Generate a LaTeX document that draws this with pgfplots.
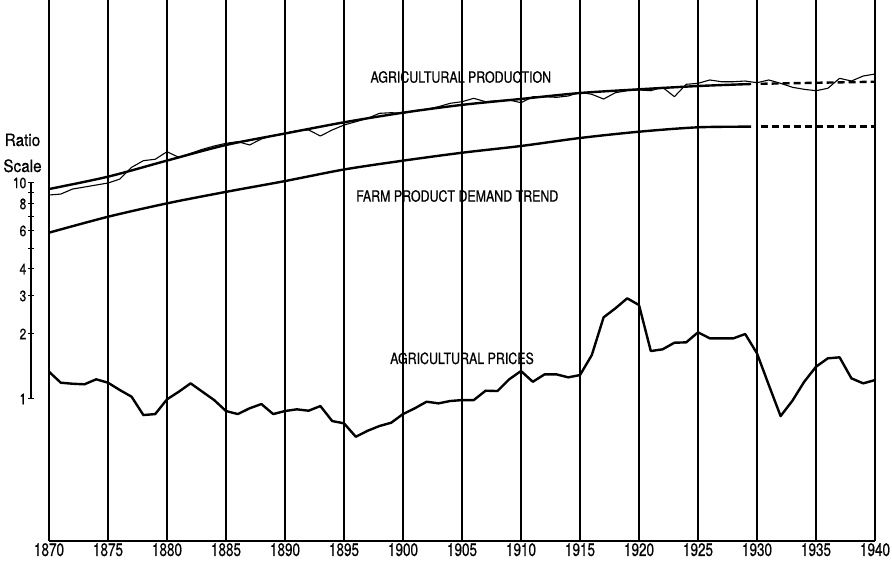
\documentclass[border=0pt]{standalone}
\usepackage{fontspec}
\setmainfont{TeX Gyre Heros}
\newfontfamily\lett{TeX Gyre Heros}[FakeStretch=0.8, FakeBold=0.6]
\newfontfamily\lettn{TeX Gyre Heros}[FakeStretch=0.75, FakeBold=0.6]
\newfontfamily\lettw{TeX Gyre Heros}[FakeStretch=0.9, FakeBold=0.6]
\usepackage{pgfplots}
\pgfplotsset{compat=1.18}
\usetikzlibrary{calc}

\begin{document}
\begin{tikzpicture}
\begin{axis}[
    name=main,
    scale only axis,
    width=826pt, height=541pt,
    xmin=1870, xmax=1940,
    ymode=log, ymin=0.2202, ymax=70.35,
    axis x line*=bottom,
    axis y line=none,
    x axis line style={line width=1.6pt},
    xtick={1870,1875,...,1940},
    xticklabels={1870,1875,1880,1885,1890,1895,1900,1905,1910,1915,1920,1925,1930,1935,1940},
    xticklabel style={font=\lettn\fontsize{18}{18}\selectfont, inner sep=2pt},
    xtick style={draw=none},
    ytick=\empty,
    xmajorgrids,
    grid style={black, line width=1.2pt},
    clip=false,
]
% right border is heavier
\draw[line width=2.6pt] (rel axis cs:1,0) -- (rel axis cs:1,1);

% agricultural prices
\addplot[line width=2.4pt, line join=round] coordinates {
(1870,1.338)(1871,1.190)(1872,1.177)(1873,1.170)(1874,1.234)(1875,1.190)
(1876,1.101)(1877,1.025)(1878,0.843)(1879,0.852)(1880,0.997)(1881,1.081)
(1882,1.182)(1883,1.081)(1884,0.989)(1885,0.880)(1886,0.852)(1887,0.906)
(1888,0.948)(1889,0.852)(1890,0.880)(1891,0.896)(1892,0.883)(1893,0.928)
(1894,0.791)(1895,0.772)(1896,0.669)(1897,0.713)(1898,0.750)(1899,0.777)
(1900,0.852)(1901,0.906)(1902,0.972)(1903,0.955)(1904,0.979)(1905,0.989)
(1906,0.989)(1907,1.093)(1908,1.089)(1909,1.234)(1910,1.348)(1911,1.202)
(1912,1.301)(1913,1.301)(1914,1.260)(1915,1.291)(1916,1.598)(1917,2.389)
(1918,2.630)(1919,2.926)(1920,2.724)(1921,1.668)(1922,1.699)(1923,1.823)
(1924,1.830)(1925,2.036)(1926,1.910)(1927,1.910)(1928,1.910)(1929,2.000)
(1930,1.627)(1931,1.161)(1932,0.834)(1933,0.982)(1934,1.202)(1935,1.411)
(1936,1.543)(1937,1.560)(1938,1.247)(1939,1.182)(1940,1.224)
};

% farm product demand trend
\addplot[line width=2.4pt, smooth] coordinates {
(1870,5.89)(1875,6.98)(1880,8.05)(1885,9.10)(1890,10.21)(1895,11.55)
(1900,12.69)(1905,13.81)(1910,14.84)(1915,16.16)(1920,17.28)(1925,18.11)
(1929.5,18.23)
};
\addplot[line width=2.4pt, dash pattern=on 7pt off 4pt] coordinates {
(1930.3,18.23)(1940,18.23)
};

% production trend
\addplot[line width=2.4pt, smooth] coordinates {
(1870,9.38)(1875,10.70)(1880,12.70)(1885,15.00)(1890,16.95)(1895,19.10)
(1900,21.16)(1905,23.00)(1910,24.50)(1915,26.10)(1920,27.15)(1925,28.12)
(1929.5,28.73)
};
\addplot[line width=2.4pt, dash pattern=on 7pt off 4pt] coordinates {
(1930.3,28.8)(1940,29.44)
};

% agricultural production, actual
\addplot[line width=1.1pt, line join=round] coordinates {
(1870,8.80)(1871,8.89)(1872,9.38)(1873,9.58)(1874,9.79)(1875,10.00)
(1876,10.43)(1877,11.82)(1878,12.69)(1879,12.88)(1880,13.96)(1881,13.15)
(1882,13.72)(1883,14.32)(1884,14.84)(1885,15.27)(1886,15.54)(1887,15.00)
(1888,15.99)(1889,16.60)(1890,16.99)(1891,17.47)(1892,17.60)(1893,16.51)
(1894,17.60)(1895,18.56)(1896,19.22)(1897,19.93)(1898,21.02)(1899,21.16)
(1900,21.02)(1901,21.61)(1902,21.94)(1903,22.56)(1904,23.39)(1905,23.79)
(1906,24.67)(1907,23.79)(1908,24.04)(1909,24.23)(1910,23.54)(1911,25.09)
(1912,25.09)(1913,24.93)(1914,25.28)(1915,26.30)(1916,25.74)(1917,24.48)
(1918,26.19)(1919,26.75)(1920,26.96)(1921,26.75)(1922,27.74)(1923,25.09)
(1924,28.64)(1925,28.94)(1926,29.99)(1927,29.44)(1928,29.44)(1929,29.66)
(1930,29.13)(1931,29.99)(1932,28.94)(1933,27.74)(1934,27.15)(1935,26.75)
(1936,27.44)(1937,30.53)(1938,29.66)(1939,31.29)(1940,31.96)
};

\node[font=\lett\fontsize{15.5}{15.5}\selectfont] at (axis cs:1904.9,30.95) {AGRICULTURAL PRODUCTION};
\node[font=\lett\fontsize{15.5}{15.5}\selectfont] at (axis cs:1904.6,8.71) {FARM PRODUCT DEMAND TREND};
\node[font=\lett\fontsize{15.5}{15.5}\selectfont] at (axis cs:1905.0,1.543) {AGRICULTURAL PRICES};
\end{axis}

% the small ratio scale at the left
\begin{axis}[
    name=ratio,
    at={($(main.south west)+(-18pt,142pt)$)}, anchor=south west,
    scale only axis, width=1pt, height=216pt,
    xmin=0, xmax=1, ymode=log, ymin=1, ymax=10,
    hide x axis,
    axis y line*=left,
    y axis line style={line width=1.1pt},
    ytick={1,2,3,4,5,6,7,8,9,10},
    yticklabels={1,2,3,4,,6,,8,,10},
    yminorticks=false,
    tick align=center,
    major tick length=6pt,
    ytick style={line width=1pt, black},
    yticklabel style={font=\lett\fontsize{15}{15}\selectfont, inner sep=1.5pt},
]
\end{axis}
\node[anchor=base, inner sep=0pt, font=\lettw\fontsize{17}{17}\selectfont]
  at ($(ratio.north west)+(-8.5pt,37pt)$) {Ratio};
\node[anchor=base, inner sep=0pt, font=\lettw\fontsize{17}{17}\selectfont]
  at ($(ratio.north west)+(-8.5pt,11pt)$) {Scale};

\pgfresetboundingbox
\path ($(main.south west)+(-49pt,-19pt)$) rectangle ++(892pt,560pt);
\end{tikzpicture}
\end{document}
